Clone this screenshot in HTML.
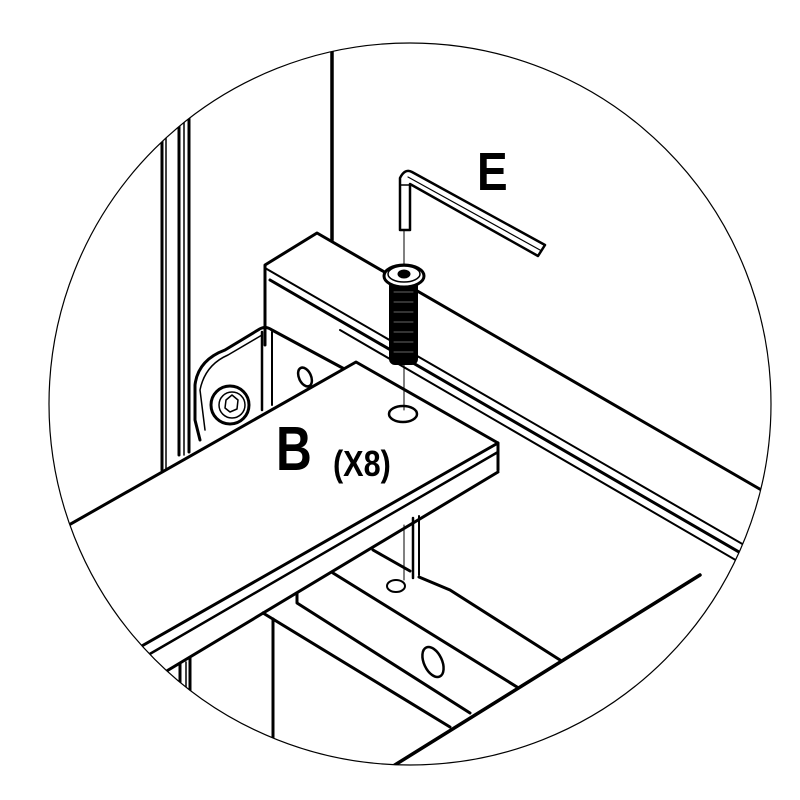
<!DOCTYPE html>
<html><head><meta charset="utf-8"><style>html,body{margin:0;padding:0;background:#fff}svg{display:block}</style></head>
<body>
<svg width="800" height="800" viewBox="0 0 800 800" xmlns="http://www.w3.org/2000/svg">
<defs><clipPath id="c"><circle cx="410" cy="404" r="361"/></clipPath></defs>
<rect width="800" height="800" fill="#fff"/>
<g clip-path="url(#c)" fill="none" stroke="#000" stroke-width="3" stroke-linecap="round" stroke-linejoin="round">
<line x1="162" y1="100" x2="162" y2="470"/>
<line x1="166" y1="100" x2="166" y2="470" stroke-width="1.5"/>
<line x1="179" y1="100" x2="179" y2="455"/>
<line x1="184" y1="100" x2="184" y2="455" stroke-width="1.5"/>
<line x1="189" y1="100" x2="189" y2="452"/>
<line x1="180" y1="660" x2="180" y2="720"/>
<line x1="186" y1="662" x2="186" y2="720" stroke-width="1.5"/>
<line x1="190" y1="655" x2="190" y2="720"/>
<line x1="332" y1="40" x2="332" y2="240" stroke-width="3.5"/>
<polyline points="265,345 265,265 317,233 770,495"/>
<line x1="265" y1="268" x2="770" y2="560" stroke-width="2"/>
<line x1="270" y1="280" x2="770" y2="570" stroke-width="3"/>
<line x1="340" y1="330" x2="770" y2="580" stroke-width="2"/>
<path d="M200,440 L195,420 L195,385 Q198,360 225,350 L258,330 Q265,325 272,330 L350,372" stroke-width="3"/>
<path d="M205,430 L200,390 Q205,365 228,355 L262,335" stroke-width="1.5"/>
<line x1="262" y1="332" x2="262" y2="410" stroke-width="2.5"/>
<line x1="272" y1="332" x2="272" y2="405" stroke-width="2"/>
<circle cx="230" cy="405" r="19"/>
<circle cx="232" cy="405" r="13" stroke-width="1.5"/>
<polygon points="226,400 232,395 238,400 237,409 230,412 225,408" stroke-width="1.5"/>
<ellipse cx="305" cy="377" rx="6" ry="10" transform="rotate(-25 305 377)" stroke-width="2.5"/>
<polygon points="356,362 498,443 498,470 170,670 60,530" fill="#fff" stroke="none"/>
<polyline points="60,530 356,362 498,443 498,470"/>
<line x1="498" y1="443" x2="140" y2="647"/>
<line x1="498" y1="452" x2="148" y2="655" stroke-width="2.5"/>
<line x1="498" y1="472" x2="165" y2="672"/>
<ellipse cx="403" cy="414" rx="14" ry="8" stroke-width="2.5"/>
<line x1="413" y1="518" x2="413" y2="578" stroke-width="2.5"/>
<line x1="419" y1="516" x2="419" y2="575" stroke-width="2"/>
<polyline points="419,577 450,590 560,660"/>
<line x1="373" y1="550" x2="410" y2="571"/>
<polyline points="297,593 297,603 470,713"/>
<line x1="333" y1="573" x2="517" y2="687"/>
<line x1="263" y1="613" x2="450" y2="727"/>
<line x1="273" y1="619" x2="273" y2="745"/>
<line x1="390" y1="768" x2="700" y2="575" stroke-width="3.5"/>
<ellipse cx="396" cy="586" rx="9" ry="6" stroke-width="2"/>
<ellipse cx="433" cy="662" rx="9" ry="16" transform="rotate(-25 433 662)" stroke-width="2.5"/>
<line x1="404" y1="230" x2="404" y2="410" stroke-width="1"/>
<line x1="404" y1="525" x2="404" y2="580" stroke-width="1"/>
<path d="M400,230 L400,178 Q405,168 412,172 L545,245 L538,256 L410,184 L410,230 Z" fill="#fff" stroke-width="2.5"/>
<line x1="400" y1="185" x2="410" y2="185" stroke-width="1.5"/>
<line x1="408" y1="177" x2="540" y2="250" stroke-width="1.2"/>
<rect x="389" y="280" width="29" height="85" rx="6" fill="#000" stroke="none"/>
<g stroke="#666" stroke-width="1">
<line x1="394" y1="292" x2="413" y2="292"/><line x1="394" y1="302" x2="413" y2="302"/><line x1="394" y1="312" x2="413" y2="312"/><line x1="394" y1="322" x2="413" y2="322"/><line x1="394" y1="332" x2="413" y2="332"/><line x1="394" y1="342" x2="413" y2="342"/><line x1="394" y1="352" x2="413" y2="352"/></g>
<ellipse cx="404" cy="276" rx="20" ry="11" fill="#fff"/>
<ellipse cx="404" cy="274" rx="16" ry="8" stroke-width="1.5"/>
<ellipse cx="404" cy="274" rx="6" ry="4" fill="#000" stroke-width="1"/>
</g>
<circle cx="410" cy="404" r="361" fill="none" stroke="#000" stroke-width="1.2"/>
<text transform="translate(477,190) scale(0.85,1)" font-family="'Liberation Sans',sans-serif" font-weight="bold" font-size="54">E</text>
<text transform="translate(276,470) scale(0.8,1)" font-family="'Liberation Sans',sans-serif" font-weight="bold" font-size="62">B</text>
<text transform="translate(333,476) scale(0.85,1)" font-family="'Liberation Sans',sans-serif" font-weight="bold" font-size="36">(X8)</text>
</svg>
</body></html>
